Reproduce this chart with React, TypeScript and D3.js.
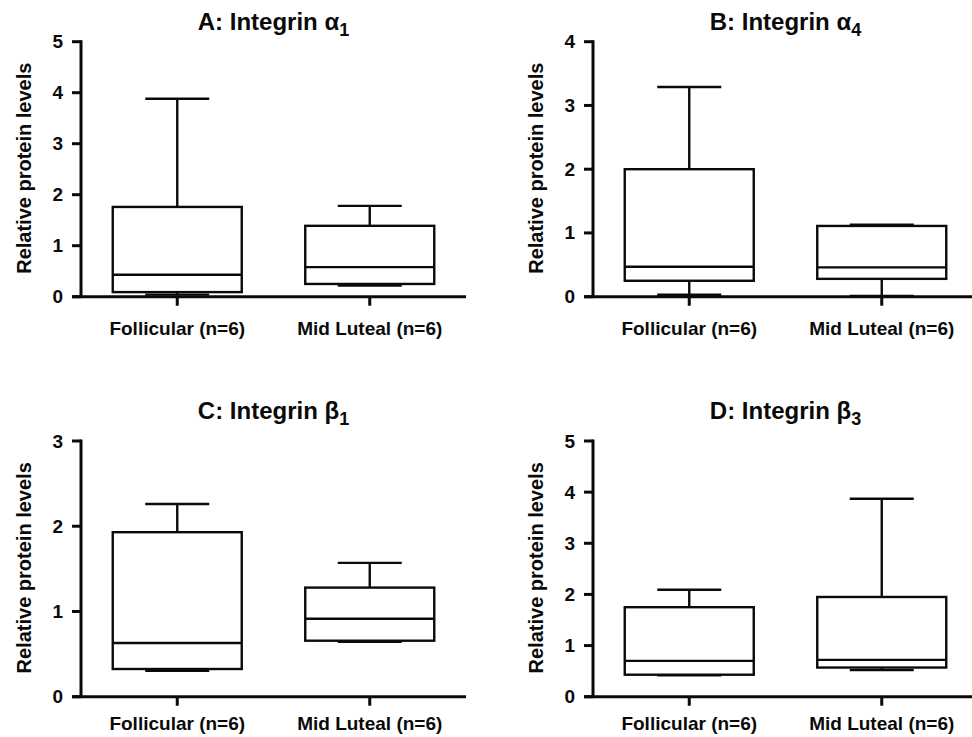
import React from "react";
import * as d3 from "d3";

// ---- data ----
const categories = ["Follicular (n=6)", "Mid Luteal (n=6)"];
const panelTitles = ["A: Integrin α", "B: Integrin α", "C: Integrin β", "D: Integrin β"];
const panelSubscripts = ["1", "4", "1", "3"];
const yAxisMax = [5, 4, 3, 5];
const yTickValues = [
  [0, 1, 2, 3, 4, 5],
  [0, 1, 2, 3, 4],
  [0, 1, 2, 3],
  [0, 1, 2, 3, 4, 5],
];
const yAxisLabel = "Relative protein levels";

// box stats: [min, q1, median, q3, max]
const alpha1Follicular = [0.04, 0.09, 0.43, 1.76, 3.88];
const alpha1MidLuteal = [0.22, 0.25, 0.58, 1.39, 1.78];
const alpha4Follicular = [0.03, 0.25, 0.47, 2.0, 3.29];
const alpha4MidLuteal = [0.01, 0.28, 0.46, 1.11, 1.13];
const beta1Follicular = [0.305, 0.325, 0.63, 1.93, 2.26];
const beta1MidLuteal = [0.645, 0.657, 0.915, 1.28, 1.57];
const beta3Follicular = [0.42, 0.43, 0.7, 1.75, 2.09];
const beta3MidLuteal = [0.52, 0.57, 0.72, 1.95, 3.87];

const panelData = [
  [alpha1Follicular, alpha1MidLuteal],
  [alpha4Follicular, alpha4MidLuteal],
  [beta1Follicular, beta1MidLuteal],
  [beta3Follicular, beta3MidLuteal],
];

// ---- layout ----
const W = 972;
const H = 737;
const colAxisX = [81, 593];
const rowTop = [41.7, 441];
const rowBottom = [296.7, 696.7];
const rowTitleY = [30, 419];
const rowLabelY = [335, 730];
const plotW = 385;
const boxW = 129;
const capW = 64;
const FONT = "'Liberation Sans', Arial, Helvetica, sans-serif";
const INK = "#0a0a0a";

function Panel({ idx }: { idx: number }) {
  const col = idx % 2;
  const row = Math.floor(idx / 2);
  const x0 = colAxisX[col];
  const top = rowTop[row];
  const bottom = rowBottom[row];
  const x = d3.scalePoint<string>().domain(categories).range([x0, x0 + plotW]).padding(0.5);
  const y = d3.scaleLinear().domain([0, yAxisMax[idx]]).range([bottom, top]);
  const stats = panelData[idx];
  const sw = 2.4;
  const aw = 3;
  return (
    <g>
      {/* title */}
      <text
        x={x0 + plotW / 2}
        y={rowTitleY[row]}
        textAnchor="middle"
        fontFamily={FONT}
        fontWeight="bold"
        fontSize={24}
        fill={INK}
      >
        <tspan>{panelTitles[idx]}</tspan>
        <tspan dy={6} fontSize={18}>{panelSubscripts[idx]}</tspan>
      </text>
      {/* y label */}
      <text
        transform={`translate(${x0 - 57.5},${(top + bottom) / 2 - 1}) rotate(-90)`}
        textAnchor="middle"
        dominantBaseline="central"
        fontFamily={FONT}
        fontWeight="bold"
        fontSize={20}
        fill={INK}
      >
        {yAxisLabel}
      </text>
      {/* boxes */}
      {stats.map((s, i) => {
        const cx = x(categories[i]) as number;
        const [mn, q1, md, q3, mx] = s;
        return (
          <g key={i} stroke={INK} strokeWidth={sw} fill="none">
            <line x1={cx} x2={cx} y1={y(q3)} y2={y(mx)} />
            <line x1={cx} x2={cx} y1={y(q1)} y2={y(mn)} />
            <line x1={cx - capW / 2} x2={cx + capW / 2} y1={y(mx)} y2={y(mx)} />
            <line x1={cx - capW / 2} x2={cx + capW / 2} y1={y(mn)} y2={y(mn)} />
            <rect x={cx - boxW / 2} y={y(q3)} width={boxW} height={y(q1) - y(q3)} fill="white" />
            <line x1={cx - boxW / 2} x2={cx + boxW / 2} y1={y(md)} y2={y(md)} />
          </g>
        );
      })}
      {/* y axis */}
      <line x1={x0} x2={x0} y1={top - 1.5} y2={bottom} stroke={INK} strokeWidth={aw} />
      {yTickValues[idx].map((t) => (
        <g key={t}>
          <line x1={x0 - 9} x2={x0} y1={y(t)} y2={y(t)} stroke={INK} strokeWidth={aw} />
          <text
            x={x0 - 18}
            y={y(t)}
            textAnchor="end"
            dominantBaseline="central"
            fontFamily={FONT}
            fontWeight="bold"
            fontSize={19}
            fill={INK}
          >
            {t}
          </text>
        </g>
      ))}
      {/* x axis */}
      <line x1={x0 - 9} x2={x0 + plotW} y1={bottom} y2={bottom} stroke={INK} strokeWidth={aw} />
      {categories.map((c) => (
        <g key={c}>
          <line x1={x(c) as number} x2={x(c) as number} y1={bottom} y2={bottom + 9} stroke={INK} strokeWidth={aw} />
          <text
            x={x(c) as number}
            y={rowLabelY[row]}
            textAnchor="middle"
            fontFamily={FONT}
            fontWeight="bold"
            fontSize={19}
            fill={INK}
          >
            {c}
          </text>
        </g>
      ))}
    </g>
  );
}

export default function App() {
  return (
    <svg
      width={W}
      height={H}
      viewBox={`0 0 ${W} ${H}`}
      style={{ position: "absolute", left: 0, top: 0, background: "white" }}
    >
      <rect width={W} height={H} fill="white" />
      {[0, 1, 2, 3].map((i) => (
        <Panel key={i} idx={i} />
      ))}
    </svg>
  );
}
